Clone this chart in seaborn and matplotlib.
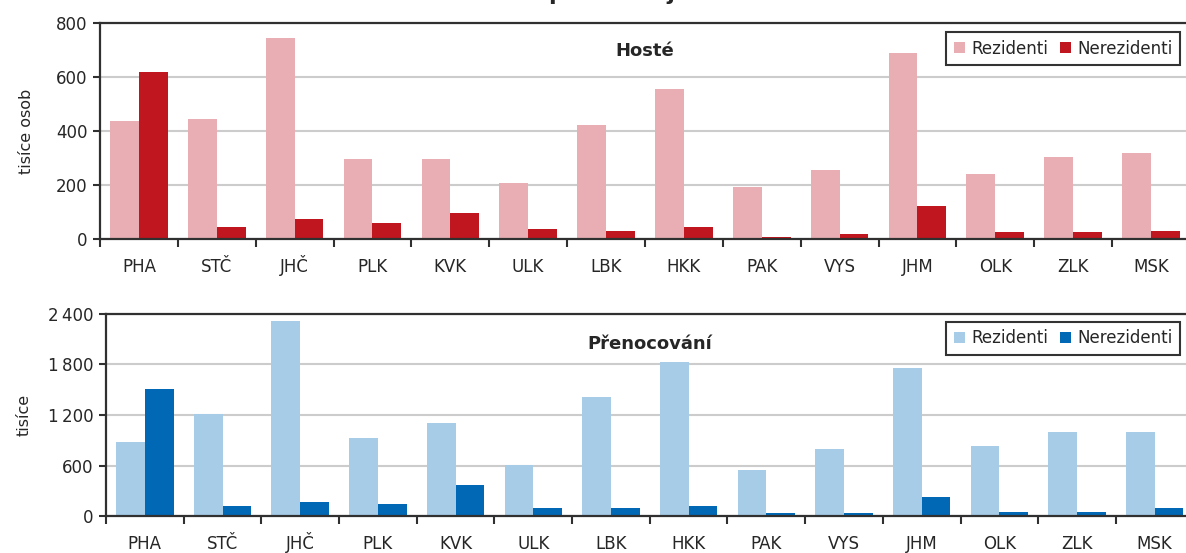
import matplotlib.pyplot as plt
import numpy as np
import pandas as pd
import seaborn as sns

kraje = ["PHA", "STČ", "JHČ", "PLK", "KVK", "ULK", "LBK",
         "HKK", "PAK", "VYS", "JHM", "OLK", "ZLK", "MSK"]

# hoste (tisice osob)
hoste_rez = [437, 444, 744, 296, 296, 207, 422, 556, 194, 255, 689, 241, 305, 318]
hoste_nerez = [620, 44, 75, 59, 96, 37, 31, 44, 9, 18, 122, 26, 26, 31]

# prenocovani (tisice)
pren_rez = [883, 1212, 2320, 927, 1109, 606, 1418, 1826, 546, 796, 1754, 835, 994, 994]
pren_nerez = [1513, 119, 166, 143, 368, 95, 95, 119, 36, 36, 230, 51, 51, 95]

skupiny = ["Rezidenti", "Nerezidenti"]


def long_df(rez, nerez):
    return pd.DataFrame({
        "kraj": kraje * 2,
        "skupina": [skupiny[0]] * len(kraje) + [skupiny[1]] * len(kraje),
        "hodnota": rez + nerez,
    })


sns.set_style("white")
plt.rcParams["font.family"] = ["DejaVu Sans"]

fig = plt.figure(figsize=(11.86, 5.53), dpi=100)
ax1 = fig.add_axes([0.0843, 0.5678, 0.919, 0.3906])
ax2 = fig.add_axes([0.0894, 0.0669, 0.917, 0.3653])

panels = [
    (ax1, long_df(hoste_rez, hoste_nerez), ["#E8AEB3", "#C0161F"], "Hosté",
     "tisíce osob", [0, 200, 400, 600, 800], 800, 0.942, 0.87, 16),
    (ax2, long_df(pren_rez, pren_nerez), ["#A6CCE8", "#0068B4"], "Přenocování",
     "tisíce", [0, 600, 1200, 1800, 2400], 2400, 0.418, 0.85, 12),
]

for ax, df, barvy, nadpis, ylab, yticks, ymax, leg_y, tit_y, lpad in panels:
    sns.barplot(data=df, x="kraj", y="hodnota", hue="skupina", palette=barvy,
                width=0.74, gap=0, saturation=1, linewidth=0, ax=ax,
                legend=True)
    ax.set_xlim(-0.5, 13.5)
    ax.set_ylim(0, ymax)
    ax.set_yticks(yticks)
    ax.set_yticklabels([f"{v:,}".replace(",", "\u202f") for v in yticks])
    ax.set_xlabel("")
    ax.set_ylabel(ylab, fontsize=11.5, labelpad=lpad)
    ax.yaxis.grid(True, color="#CCCCCC", linewidth=1.5)
    ax.set_axisbelow(True)

    # ticks between categories
    ax.set_xticks(np.arange(-0.5, 14, 1), minor=True)
    ax.tick_params(axis="x", which="major", length=0, labelsize=12, pad=24)
    for lab in ax.get_xticklabels():
        lab.set_verticalalignment("baseline")
    ax.tick_params(axis="x", which="minor", length=6, width=1.5,
                   direction="out", color="#303030", bottom=True)
    ax.tick_params(axis="y", length=5, width=1.5, direction="out",
                   color="#303030", left=True, labelsize=12, pad=4)

    for side in ["left", "bottom", "top"]:
        ax.spines[side].set_visible(True)
        ax.spines[side].set_color("#303030")
        ax.spines[side].set_linewidth(1.6)
    ax.spines["right"].set_visible(False)

    ax.text(0.5, tit_y, nadpis, transform=ax.transAxes, ha="center",
            va="center", fontsize=13, fontweight="bold")

    ax.legend(loc="upper right", bbox_to_anchor=(0.995, leg_y),
              bbox_transform=fig.transFigure, ncol=2, fontsize=12,
              frameon=True, fancybox=False, edgecolor="black",
              handlelength=0.65, handleheight=0.65, handletextpad=0.4,
              columnspacing=0.7, borderpad=0.45, borderaxespad=0)
    ax.get_legend().get_frame().set_linewidth(1.5)

# main title, mostly cut off at the top edge (as in the source image)
fig.text(0.463, 1.0, "podle krajů", ha="left", va="baseline",
         fontsize=16, fontweight="bold")

fig.savefig("out.png", dpi=100)
